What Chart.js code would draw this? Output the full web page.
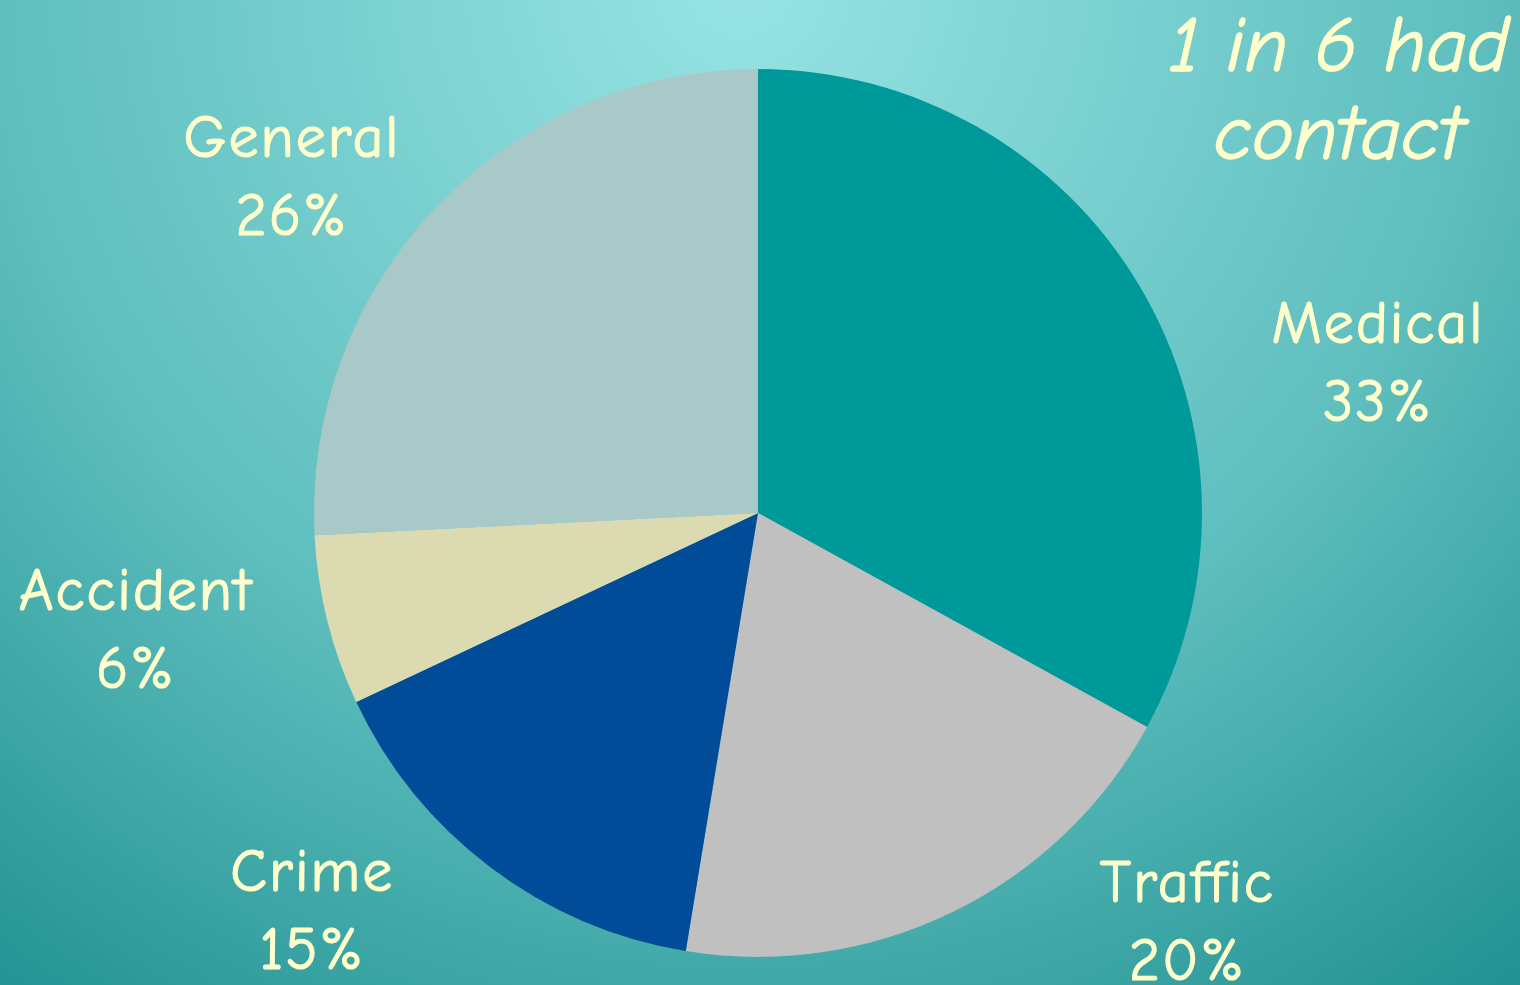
<!DOCTYPE html>
<html>
<head>
<meta charset="utf-8">
<script src="https://cdn.jsdelivr.net/npm/chart.js@4.4.1/dist/chart.umd.min.js"></script>
<style>
  html, body { margin: 0; padding: 0; overflow: hidden; background: #3aa5a5; }
  #wrap { width: 1520px; height: 985px; position: relative; }
</style>
</head>
<body>
<div id="wrap"><canvas id="c"></canvas></div>
<script>
// ---- data ----
const categories = ["Medical", "Traffic", "Crime", "Accident", "General"];
const shares = [33, 19.6, 15.4, 6.2, 25.8];
const sliceColors = ["#009999", "#C0C0C0", "#004C99", "#DCDAB0", "#A9C9C9"];
const titleLines = ["1 in 6 had", "contact"];

// ---- label placement (angle from 12 o'clock in degrees, distance as multiple of radius) ----
const labelPlacement = [
  { angle: 78.1, dist: 1.427 },
  { angle: 134.9, dist: 1.365 },
  { angle: 226.9, dist: 1.375 },
  { angle: 257.7, dist: 1.434 },
  { angle: 304.2, dist: 1.269 }
];

const FONT = '"Comic Sans MS", "Comic Neue", "DejaVu Sans", sans-serif';
const TEXT_COLOR = "#FFFFCC";

const backgroundPlugin = {
  id: "bg",
  beforeDraw(chart) {
    const { ctx, width, height } = chart;
    ctx.save();
    const g = ctx.createRadialGradient(740, -20, 0, 740, -20, 1300);
    g.addColorStop(0, "rgb(152,228,228)");
    g.addColorStop(0.57, "rgb(95,190,190)");
    g.addColorStop(1, "rgb(30,143,143)");
    ctx.fillStyle = g;
    ctx.fillRect(0, 0, width, height);
    ctx.restore();
  }
};

const labelPlugin = {
  id: "sliceLabels",
  afterDraw(chart, args, opts) {
    const { ctx } = chart;
    const meta = chart.getDatasetMeta(0);
    const data = chart.data.datasets[0].data;
    ctx.save();
    ctx.fillStyle = TEXT_COLOR;
    ctx.strokeStyle = TEXT_COLOR;
    ctx.lineWidth = 1.2;
    ctx.lineJoin = "round";
    ctx.textAlign = "center";
    ctx.textBaseline = "alphabetic";
    ctx.font = "60px " + FONT;
    ctx.letterSpacing = "2px";
    meta.data.forEach((arc, i) => {
      const p = opts.placement[i];
      const a = p.angle * Math.PI / 180;
      const x = arc.x + Math.sin(a) * arc.outerRadius * p.dist;
      const y = arc.y - Math.cos(a) * arc.outerRadius * p.dist;
      const l1 = chart.data.labels[i];
      const l2 = Math.round(data[i]) + "%";
      ctx.fillText(l1, x, y - 39);
      ctx.strokeText(l1, x, y - 39);
      ctx.fillText(l2, x, y + 39);
      ctx.strokeText(l2, x, y + 39);
    });
    // title
    ctx.font = "italic 79px " + FONT;
    ctx.letterSpacing = "0px";
    ctx.lineWidth = 1.5;
    ctx.fillText(titleLines[0], 1339, 71);
    ctx.strokeText(titleLines[0], 1339, 71);
    ctx.fillText(titleLines[1], 1339, 159);
    ctx.strokeText(titleLines[1], 1339, 159);
    ctx.restore();
  }
};

new Chart(document.getElementById("c"), {
  type: "pie",
  data: {
    labels: categories,
    datasets: [{
      data: shares,
      backgroundColor: sliceColors,
      borderWidth: 0,
      hoverOffset: 0
    }]
  },
  options: {
    responsive: true,
    maintainAspectRatio: false,
    animation: false,
    layout: { padding: { top: 69, bottom: 28, left: 0, right: 4 } },
    plugins: {
      legend: { display: false },
      tooltip: { enabled: false },
      title: { display: false },
      sliceLabels: { placement: labelPlacement }
    }
  },
  plugins: [backgroundPlugin, labelPlugin]
});
</script>
</body>
</html>
